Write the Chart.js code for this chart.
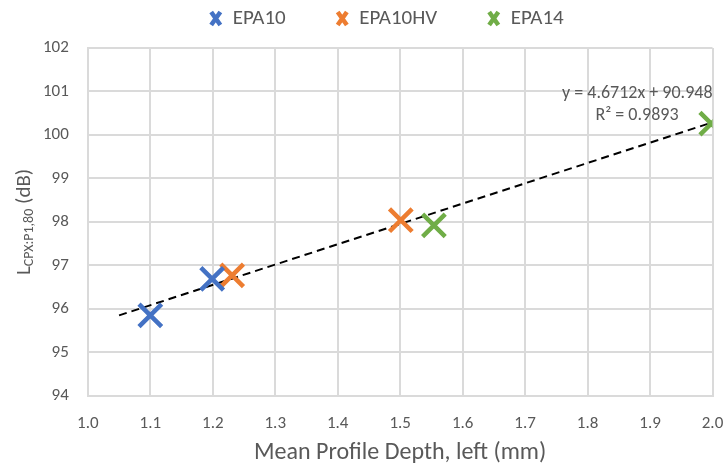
<!DOCTYPE html>
<html>
<head>
<meta charset="utf-8">
<script src="https://cdn.jsdelivr.net/npm/chart.js@4"></script>
<style>
  html, body { margin: 0; padding: 0; background: #fff; overflow: hidden; }
</style>
</head>
<body>
<!-- a few px wider than the window: the axis reserves room right of 2.0 -->
<canvas id="c" width="733" height="466"></canvas>
<script>
// measured points, mean profile depth (mm) vs level (dB)
const epa10 = [ { x: 1.100, y: 95.85 }, { x: 1.199, y: 96.69 } ];
const epa10hv = [ { x: 1.231, y: 96.77 }, { x: 1.501, y: 98.04 } ];
const epa14 = [ { x: 1.554, y: 97.92 }, { x: 1.998, y: 100.26 } ];
// ends of the linear trendline as drawn
const trend = [ { x: 1.05, y: 95.85 }, { x: 2.0, y: 100.29 } ];
const trendText = [ 'y = 4.6712x + 90.948', 'R\u00B2 = 0.9893' ];

const FONT = 'Carlito, Lato, "Noto Sans", sans-serif';
const GREY = '#595959';
const GRID = '#DADADA';

const yTitle = {
  id: 'yTitle',
  afterDraw(chart) {
    const ctx = chart.ctx;
    const area = chart.chartArea;
    ctx.save();
    ctx.translate(22, (area.top + area.bottom) / 2);
    ctx.rotate(-Math.PI / 2);
    ctx.fillStyle = GREY;
    ctx.textBaseline = 'alphabetic';
    const big = '21px ' + FONT;
    const small = '14px ' + FONT;
    ctx.font = big;
    const wL = ctx.measureText('L').width;
    ctx.font = small;
    const wS = ctx.measureText('CPX:P1,80').width;
    ctx.font = big;
    const wT = ctx.measureText(' (dB)').width;
    let x = -(wL + wS + wT) / 2;
    ctx.fillText('L', x, 8);
    x += wL;
    ctx.font = small;
    ctx.fillText('CPX:P1,80', x, 11);
    x += wS;
    ctx.font = big;
    ctx.fillText(' (dB)', x, 8);
    ctx.restore();
  }
};

const trendLabel = {
  id: 'trendLabel',
  afterDraw(chart) {
    const ctx = chart.ctx;
    const area = chart.chartArea;
    ctx.save();
    ctx.fillStyle = GREY;
    ctx.font = '18px ' + FONT;
    ctx.textAlign = 'right';
    ctx.fillText(trendText[0], area.right, 93);
    ctx.fillText(trendText[1], area.right - 34, 115);
    ctx.restore();
  }
};

// more room under the legend
const legendTweak = {
  id: 'legendTweak',
  beforeLayout(chart) {
    const legend = chart.legend;
    if (legend && !legend._tweaked) {
      const fit = legend.fit;
      legend.fit = function() {
        fit.apply(this, arguments);
        this.height += 9;
      };
      legend._tweaked = true;
    }
  }
};

const marker = (color) => ({
  pointStyle: 'crossRot',
  pointRadius: 16,
  pointHoverRadius: 16,
  borderColor: color,
  backgroundColor: color,
  pointBorderWidth: 4.5,
  showLine: false
});

new Chart(document.getElementById('c'), {
  type: 'scatter',
  data: {
    datasets: [
      Object.assign({ label: 'EPA10', data: epa10 }, marker('#4472C4')),
      Object.assign({ label: 'EPA10HV', data: epa10hv }, marker('#ED7D31')),
      Object.assign({ label: 'EPA14', data: epa14 }, marker('#70AD47')),
      {
        label: 'trend',
        data: trend,
        showLine: true,
        borderColor: '#000',
        borderWidth: 2,
        borderDash: [ 8, 5 ],
        pointRadius: 0,
        fill: false
      }
    ]
  },
  options: {
    responsive: false,
    animation: false,
    layout: { padding: { left: 40, right: 0, top: -42, bottom: -3 } },
    plugins: {
      legend: {
        position: 'top',
        labels: {
          usePointStyle: true,
          pointStyleWidth: 13,
          color: GREY,
          font: { family: FONT, size: 21 },
          boxWidth: 13,
          boxHeight: 13,
          padding: 50,
          filter: (item) => item.text !== 'trend'
        }
      },
      tooltip: { enabled: false }
    },
    scales: {
      x: {
        type: 'linear',
        min: 1.0,
        max: 2.0,
        ticks: {
          stepSize: 0.1,
          color: GREY,
          font: { family: FONT, size: 17 },
          padding: 0,
          callback: (v) => v.toFixed(1)
        },
        grid: { color: GRID, lineWidth: 2, drawTicks: true, tickLength: 18, tickColor: 'rgba(0,0,0,0)' },
        border: { color: GRID, width: 2 },
        title: {
          display: true,
          text: 'Mean Profile Depth, left (mm)',
          color: GREY,
          font: { family: FONT, size: 24 },
          padding: { top: 4, bottom: 2 }
        }
      },
      y: {
        min: 94,
        max: 102,
        ticks: {
          stepSize: 1,
          color: GREY,
          font: { family: FONT, size: 17 },
          padding: 3
        },
        grid: { color: GRID, lineWidth: 2, drawTicks: true, tickLength: 16, tickColor: 'rgba(0,0,0,0)' },
        border: { color: GRID, width: 2 }
      }
    }
  },
  plugins: [ yTitle, trendLabel, legendTweak ]
});
</script>
</body>
</html>
